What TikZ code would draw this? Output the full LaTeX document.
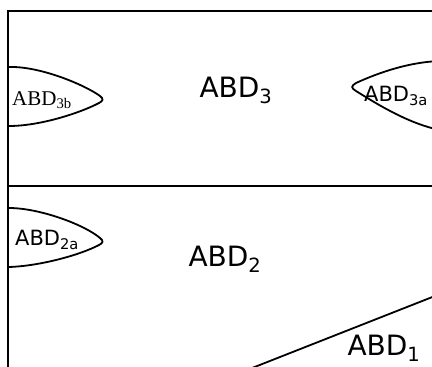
\documentclass[tikz,border=0pt]{standalone}
\usepackage{fontspec}
\setmainfont{DejaVu Sans}
\newfontfamily\serifabd{Liberation Serif}
\begin{document}
\begin{tikzpicture}[x=1pt,y=-1pt,
  frame/.style={line width=2pt},
  lobe/.style={line width=1.8pt},
  big/.style={font=\fontsize{28}{32}\selectfont, inner sep=0pt},
  small/.style={font=\fontsize{21}{24}\selectfont, inner sep=0pt},
  serifsmall/.style={font=\serifabd\fontsize{21}{24}\selectfont, inner sep=0pt}]
\useasboundingbox (0,0) rectangle (432,367);
\clip (0,0) rectangle (432,367);
% frame
\draw[frame] (440,11) -- (8,11) -- (8,370);
\draw[frame] (8,186) -- (440,186);
% lobes
\draw[lobe] (9,67) .. controls (40,66) and (85,85) .. (100,96) .. controls (104,99) and (103,101) .. (99,103) .. controls (80,113) and (40,126) .. (9,126);
\draw[lobe] (440,61) .. controls (410,62) and (380,72) .. (356,83) .. controls (351,86) and (351,88) .. (356,91) .. controls (380,106) and (410,124) .. (440,130);
\draw[lobe] (9,208) .. controls (40,208) and (85,225) .. (100,238) .. controls (104,241) and (103,243) .. (99,245) .. controls (80,255) and (40,266) .. (9,267);
% diagonal
\coordinate (d1) at (247,370);
\coordinate (d2) at (440,294);
\draw[lobe] (d1) -- (d2);
% labels
\node[big] (abd3) at (236,90) {ABD\textsubscript{3}};
\node[big] (abd2) at (225,259) {ABD\textsubscript{2}};
\node[big] (abd1) at (384,348) {ABD\textsubscript{1}};
\node[serifsmall, anchor=west] (abd3b) at (12,100) {ABD\textsubscript{3b}};
\node[small, anchor=west] (abd3a) at (364,96) {ABD\textsubscript{3a}};
\node[small, anchor=west] (abd2a) at (15,240) {ABD\textsubscript{2a}};
\end{tikzpicture}
\end{document}
